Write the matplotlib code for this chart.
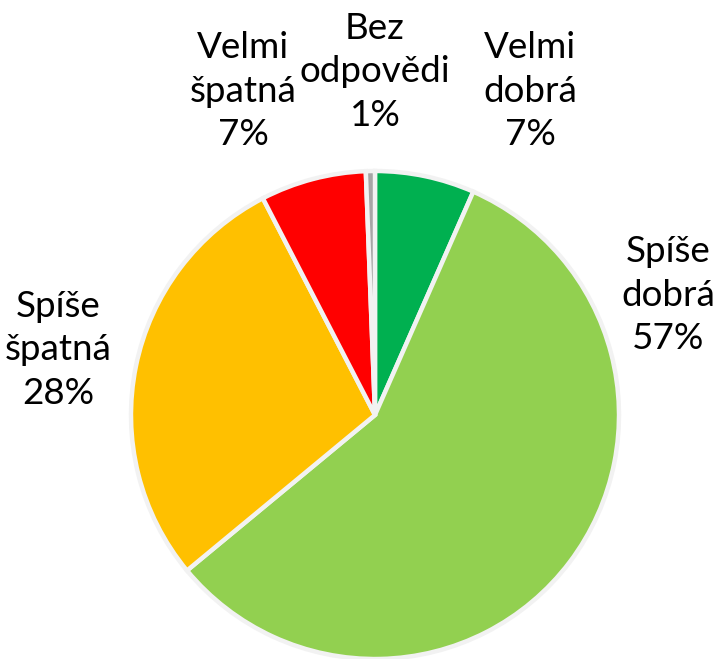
import matplotlib
matplotlib.use('Agg')
import matplotlib.pyplot as plt

# hodnoty v %
categories = ['Velmi\ndobrá', 'Spíše\ndobrá', 'Spíše\nšpatná', 'Velmi\nšpatná', 'Bez\nodpovědi']
values = [6.6, 57.4, 28.4, 7.0, 0.6]
colors = ['#00B050', '#92D050', '#FFC000', '#FF0000', '#A6A6A6']

# pozice popisků v pixelech (x, y zdola)
label_pos = [(530, 568), (668, 364), (58, 309), (243, 568), (375, 587)]

plt.rcParams['font.family'] = ['Lato', 'DejaVu Sans']

fig = plt.figure(figsize=(7.16, 6.59), dpi=100)
ax = fig.add_axes([0, 0, 1, 1])
ax.pie(values, colors=colors, startangle=90, counterclock=False,
       radius=244, center=(375, 244), frame=False,
       wedgeprops=dict(edgecolor='#F2F2F2', linewidth=3.2))
ax.set_xlim(0, 716); ax.set_ylim(0, 659)
ax.set_aspect('equal'); ax.axis('off')

for cat, v, (x, y) in zip(categories, values, label_pos):
    ax.text(x, y, f'{cat}\n{round(v)}%', ha='center', va='center',
            fontsize=26.5, linespacing=1.4, color='black')

fig.savefig('out.png', dpi=100)
